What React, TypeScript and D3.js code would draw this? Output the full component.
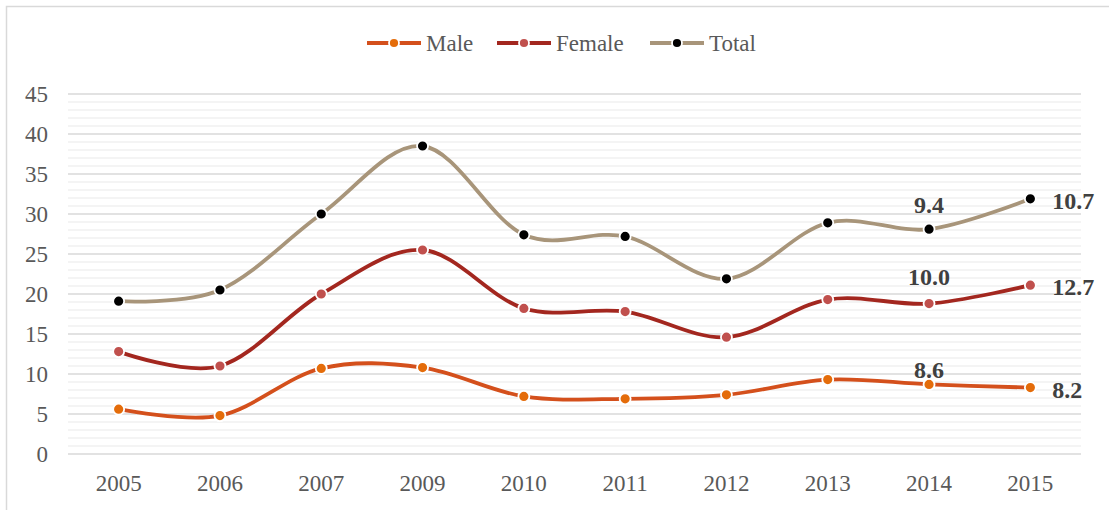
import React from 'react';
import * as d3 from 'd3';

const years = ['2005', '2006', '2007', '2009', '2010', '2011', '2012', '2013', '2014', '2015'];
const male = [5.6, 4.8, 10.7, 10.8, 7.2, 6.9, 7.4, 9.3, 8.7, 8.3];
const female = [12.8, 11.0, 20.0, 25.5, 18.2, 17.8, 14.6, 19.3, 18.8, 21.1];
const total = [19.1, 20.5, 30.0, 38.5, 27.4, 27.2, 21.9, 28.9, 28.1, 31.9];
const yTicks = [0, 5, 10, 15, 20, 25, 30, 35, 40, 45];
// labels shown on the last two points of each series
const maleLabels = ['8.6', '8.2'];
const femaleLabels = ['10.0', '12.7'];
const totalLabels = ['9.4', '10.7'];

const W = 1109;
const H = 510;
const font = "'Liberation Serif', 'Times New Roman', Times, 'DejaVu Serif', serif";

const series = [
  { name: 'Male', values: male, line: '#D4501C', dot: '#E46C0A', labels: maleLabels, lift: 6 },
  { name: 'Female', values: female, line: '#A3271F', dot: '#C0504D', labels: femaleLabels, lift: 19 },
  { name: 'Total', values: total, line: '#A8957A', dot: '#000000', labels: totalLabels, lift: 16 },
];

export default function App() {
  const x = d3.scaleBand().domain(years).range([68, 1081]);
  const y = d3.scaleLinear().domain([0, 45]).range([454, 94]);
  const cx = (yr: string) => (x(yr) ?? 0) + x.bandwidth() / 2;
  const line = d3
    .line<number>()
    .x((_, i) => cx(years[i]))
    .y((d) => y(d))
    .curve(d3.curveCardinal.tension(0));
  const minor = d3.range(0, 46, 1).filter((v) => v % 5 !== 0);

  const legendX = [367, 497, 650];

  return (
    <svg width={W} height={H} style={{ position: 'absolute', left: 0, top: 0, background: '#fff', fontFamily: font }}>
      <rect x={6.5} y={6.5} width={W + 10} height={H + 10} fill="none" stroke="#d9d9d9" strokeWidth={1.5} />
      <g>
        {minor.map((v) => (
          <line key={'m' + v} x1={68} x2={1081} y1={y(v)} y2={y(v)} stroke="#f0f0f0" strokeWidth={1.3} />
        ))}
        {yTicks.map((v) => (
          <line key={'M' + v} x1={68} x2={1081} y1={y(v)} y2={y(v)} stroke="#d9d9d9" strokeWidth={1.3} />
        ))}
        {yTicks.map((v) => (
          <text key={'t' + v} x={48} y={y(v)} dy="0.33em" textAnchor="end" fontSize={23} fill="#595959">
            {v}
          </text>
        ))}
        {years.map((yr) => (
          <text key={yr} x={cx(yr)} y={491} textAnchor="middle" fontSize={23} fill="#595959">
            {yr}
          </text>
        ))}
      </g>
      {series.map((s) => (
        <g key={s.name}>
          <path d={line(s.values) ?? ''} fill="none" stroke={s.line} strokeWidth={3.8} strokeLinecap="round" />
          {s.values.map((v, i) => (
            <circle key={i} cx={cx(years[i])} cy={y(v)} r={5.5} fill={s.dot} stroke="#fff" strokeWidth={1.8} />
          ))}
          <text
            x={cx(years[8])}
            y={y(s.values[8]) - s.lift}
            textAnchor="middle"
            fontSize={24}
            fontWeight="bold"
            fill="#404040"
          >
            {s.labels[0]}
          </text>
          <text
            x={cx(years[9]) + 22}
            y={y(s.values[9]) + 2}
            dy="0.33em"
            fontSize={24}
            fontWeight="bold"
            fill="#404040"
          >
            {s.labels[1]}
          </text>
        </g>
      ))}
      <g>
        {series.map((s, i) => (
          <g key={s.name} transform={`translate(${legendX[i]},43)`}>
            <line x1={0} x2={54} y1={0} y2={0} stroke={s.line} strokeWidth={3.8} />
            <circle cx={27} cy={0} r={5} fill={s.dot} stroke="#fff" strokeWidth={1.8} />
            <text x={59} y={0} dy="0.33em" fontSize={23} fill="#595959">
              {s.name}
            </text>
          </g>
        ))}
      </g>
    </svg>
  );
}
